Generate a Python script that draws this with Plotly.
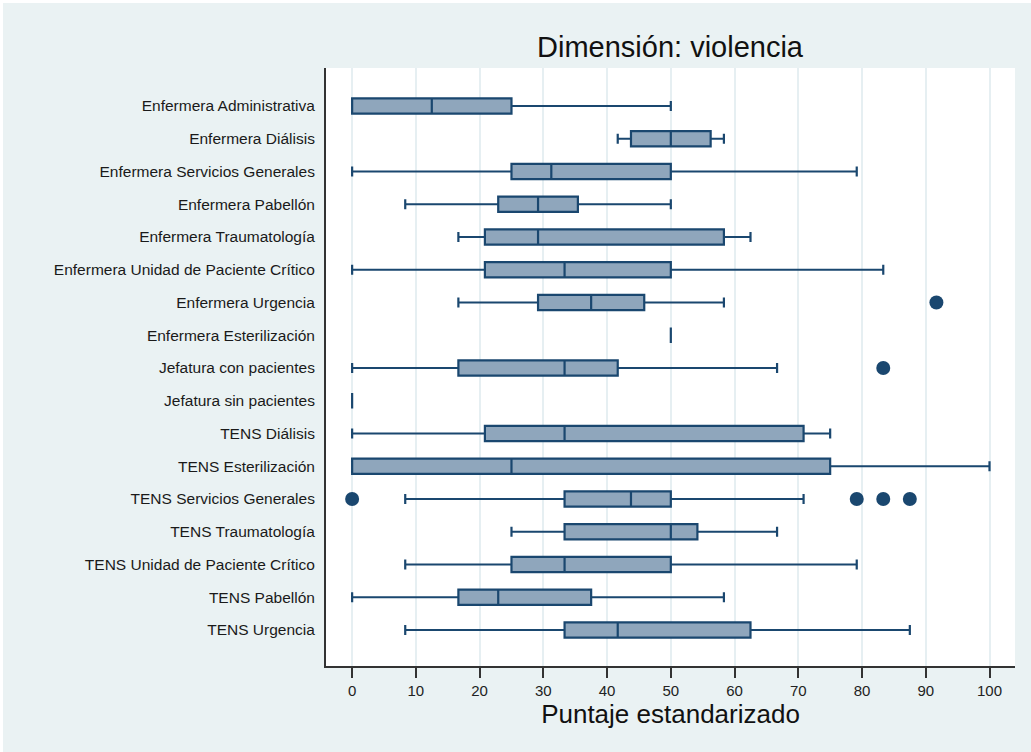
import plotly.graph_objects as go

# Occupational groups (top to bottom)
categories = [
    "Enfermera Administrativa",
    "Enfermera Diálisis",
    "Enfermera Servicios Generales",
    "Enfermera Pabellón",
    "Enfermera Traumatología",
    "Enfermera Unidad de Paciente Crítico",
    "Enfermera Urgencia",
    "Enfermera Esterilización",
    "Jefatura con pacientes",
    "Jefatura sin pacientes",
    "TENS Diálisis",
    "TENS Esterilización",
    "TENS Servicios Generales",
    "TENS Traumatología",
    "TENS Unidad de Paciente Crítico",
    "TENS Pabellón",
    "TENS Urgencia",
]

# Box summary statistics per group (standardised score, 0-100)
lower_whisker = [0, 41.67, 0, 8.33, 16.67, 0, 16.67, 50, 0, 0, 0, 0, 8.33, 25, 8.33, 0, 8.33]
q1 = [0, 43.75, 25, 22.92, 20.83, 20.83, 29.17, 50, 16.67, 0, 20.83, 0, 33.33, 33.33, 25, 16.67, 33.33]
median = [12.5, 50, 31.25, 29.17, 29.17, 33.33, 37.5, 50, 33.33, 0, 33.33, 25, 43.75, 50, 33.33, 22.92, 41.67]
q3 = [25, 56.25, 50, 35.42, 58.33, 50, 45.83, 50, 41.67, 0, 70.83, 75, 50, 54.17, 50, 37.5, 62.5]
upper_whisker = [50, 58.33, 79.17, 50, 62.5, 83.33, 58.33, 50, 66.67, 0, 75, 100, 70.83, 66.67, 79.17, 58.33, 87.5]

# Outside values
outlier_group = [
    "Enfermera Urgencia",
    "Jefatura con pacientes",
    "TENS Servicios Generales",
    "TENS Servicios Generales",
    "TENS Servicios Generales",
    "TENS Servicios Generales",
]
outlier_value = [91.67, 83.33, 0, 79.17, 83.33, 87.5]

x_ticks = list(range(0, 101, 10))

NAVY = "#1A476F"
FILL = "#8FA6BC"
BG = "#EAF2F3"
FONT = "Liberation Sans, Arial, sans-serif"

fig = go.Figure()

fig.add_trace(go.Box(
    y=categories,
    q1=q1,
    median=median,
    q3=q3,
    lowerfence=lower_whisker,
    upperfence=upper_whisker,
    orientation="h",
    boxpoints=False,
    width=0.47,
    whiskerwidth=0.66,
    fillcolor=FILL,
    line=dict(color=NAVY, width=2.2),
    hoverinfo="skip",
    showlegend=False,
))

fig.add_trace(go.Scatter(
    x=outlier_value,
    y=outlier_group,
    mode="markers",
    marker=dict(color=NAVY, size=14, line=dict(width=0)),
    hoverinfo="skip",
    showlegend=False,
))

W, H = 1031, 752
L, R, T, B = 326, 16, 68, 86
pw, ph = W - L - R, H - T - B

def px_to_paper_x(px):
    return (px - L) / pw

def px_to_paper_y(py):
    return (H - B - py) / ph

# thin white frame along the top and left edges of the page
shapes = [
    dict(type="rect", xref="paper", yref="paper",
         x0=px_to_paper_x(0), x1=px_to_paper_x(W),
         y0=px_to_paper_y(3), y1=px_to_paper_y(0),
         fillcolor="white", line=dict(width=0), layer="above"),
    dict(type="rect", xref="paper", yref="paper",
         x0=px_to_paper_x(0), x1=px_to_paper_x(3),
         y0=px_to_paper_y(H), y1=px_to_paper_y(0),
         fillcolor="white", line=dict(width=0), layer="above"),
]

fig.update_layout(
    width=W,
    height=H,
    margin=dict(l=L, r=R, t=T, b=B, pad=0),
    paper_bgcolor=BG,
    plot_bgcolor="white",
    font=dict(family=FONT, color="#1a1a1a"),
    title=dict(
        text="Dimensión: violencia",
        font=dict(family=FONT, size=29, color="#111111"),
        xref="container", yref="container",
        x=670 / W, y=1 - 47 / H,
        xanchor="center", yanchor="middle",
    ),
    shapes=shapes,
    xaxis=dict(
        range=[-4.1, 104.0],
        tickvals=x_ticks,
        ticktext=[str(v) for v in x_ticks],
        ticks="outside",
        ticklen=10,
        tickwidth=1.5,
        tickcolor="#333333",
        tickfont=dict(family=FONT, size=15, color="#222222"),
        showgrid=True,
        gridcolor="#E6EFF2",
        gridwidth=1.5,
        zeroline=False,
        showline=True,
        linecolor="#333333",
        linewidth=2,
        title=dict(
            text="Puntaje estandarizado",
            font=dict(family=FONT, size=26, color="#111111"),
            standoff=6,
        ),
    ),
    yaxis=dict(
        type="category",
        categoryorder="array",
        categoryarray=categories,
        range=[17.10, -1.16],
        ticks="",
        ticklabelstandoff=6,
        tickfont=dict(family=FONT, size=15.5, color="#1a1a1a"),
        showgrid=False,
        zeroline=False,
        showline=True,
        linecolor="#333333",
        linewidth=2,
    ),
)

fig.write_html("out.html")
